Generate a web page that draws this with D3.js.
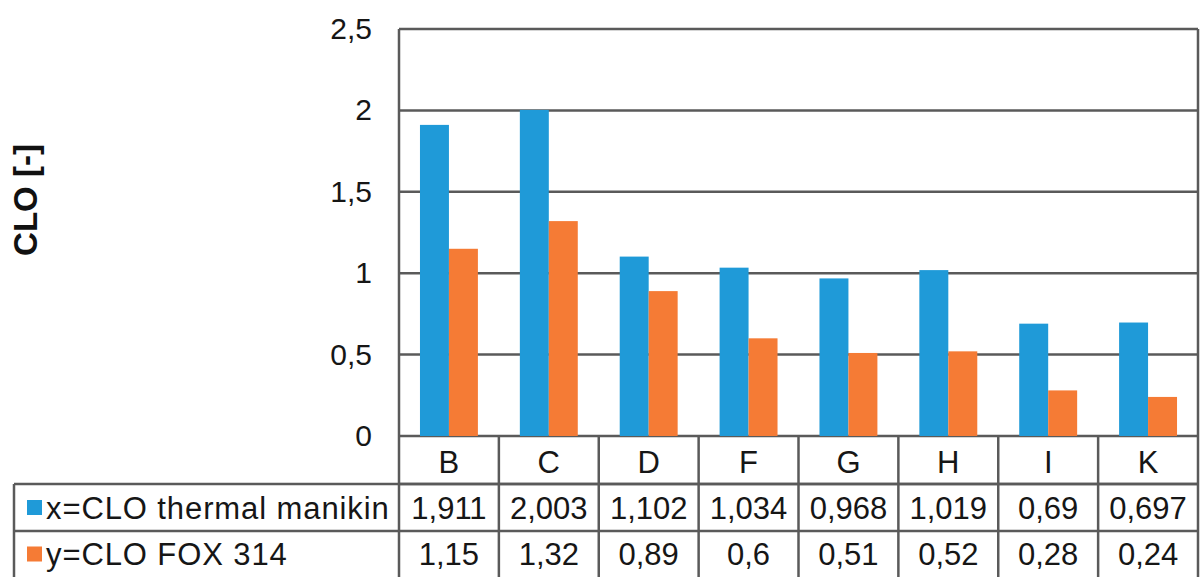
<!DOCTYPE html>
<html>
<head>
<meta charset="utf-8">
<script src="https://cdn.jsdelivr.net/npm/d3@7"></script>
<style>
  html, body { margin: 0; padding: 0; background: #fff; }
  svg { display: block; font-family: "Liberation Sans", Arial, sans-serif; }
</style>
</head>
<body>
<svg id="chart" width="1201" height="577"></svg>
<script>
const categories = ["B", "C", "D", "F", "G", "H", "I", "K"];
const seriesNames = ["x=CLO thermal manikin", "y=CLO FOX 314"];
const manikin = [1.911, 2.003, 1.102, 1.034, 0.968, 1.019, 0.69, 0.697];
const fox = [1.15, 1.32, 0.89, 0.6, 0.51, 0.52, 0.28, 0.24];
const yTicks = [0, 0.5, 1, 1.5, 2, 2.5];
const yTitle = "CLO [-]";
const colors = ["#1f9ad8", "#f57b35"];

const seriesValues = [manikin, fox];
const fmt = v => String(v).replace(".", ",");

const svg = d3.select("#chart");
const plotL = 399, plotR = 1198, plotT = 29, plotB = 436;
const tableL = 14;
const rowCat = [436, 484], row1 = [484, 531], row2 = [531, 580];
const lineColor = "#5a5a5a";
const fontSize = 31;
const textColor = "#161616";

const y = d3.scaleLinear().domain([0, 2.5]).range([plotB, plotT]);
const xCol = d3.scaleBand().domain(categories).range([plotL, plotR]).padding(0);
const xGroup = d3.scaleBand().domain(categories).range([plotL, plotR])
  .paddingInner(0.42).paddingOuter(0.21);
const xSeries = d3.scaleBand().domain(d3.range(seriesNames.length))
  .range([0, xGroup.bandwidth()]).padding(0);

// gridlines
svg.append("g").selectAll("line").data(yTicks).join("line")
  .attr("x1", plotL).attr("x2", plotR)
  .attr("y1", d => y(d)).attr("y2", d => y(d))
  .attr("stroke", lineColor).attr("stroke-width", 2.5);

// bars
const data = [];
categories.forEach((c, i) => seriesValues.forEach((vals, s) => data.push({c, s, v: vals[i]})));
svg.append("g").selectAll("rect").data(data).join("rect")
  .attr("x", d => xGroup(d.c) + xSeries(d.s))
  .attr("width", xSeries.bandwidth())
  .attr("y", d => y(d.v))
  .attr("height", d => y(0) - y(d.v))
  .attr("fill", d => colors[d.s]);

// y tick labels
svg.append("g").selectAll("text").data(yTicks).join("text")
  .attr("x", 372).attr("y", d => y(d))
  .attr("dy", "0.33em")
  .attr("text-anchor", "end")
  .attr("font-size", 30).attr("fill", textColor)
  .text(d => fmt(d));

// y title
svg.append("text")
  .attr("transform", `translate(37,200) rotate(-90)`)
  .attr("text-anchor", "middle")
  .attr("font-size", 33).attr("font-weight", "bold").attr("fill", "#111")
  .text(yTitle);

// table lines
const tg = svg.append("g").attr("stroke", lineColor).attr("stroke-width", 2.5);
tg.append("line").attr("x1", plotL).attr("x2", plotR).attr("y1", rowCat[1]).attr("y2", rowCat[1]);
tg.append("line").attr("x1", tableL).attr("x2", plotR).attr("y1", row1[0]).attr("y2", row1[0]);
tg.append("line").attr("x1", tableL).attr("x2", plotR).attr("y1", row1[1]).attr("y2", row1[1]);
tg.append("line").attr("x1", tableL).attr("x2", plotR).attr("y1", row2[1]).attr("y2", row2[1]);
tg.append("line").attr("x1", tableL).attr("x2", tableL).attr("y1", row1[0]).attr("y2", row2[1]);
tg.append("line").attr("x1", plotL).attr("x2", plotL).attr("y1", plotT).attr("y2", row2[1]);
tg.append("line").attr("x1", plotR).attr("x2", plotR).attr("y1", plotT).attr("y2", row2[1]);
tg.selectAll(".cdiv").data(categories.slice(1)).join("line")
  .attr("x1", d => xCol(d)).attr("x2", d => xCol(d))
  .attr("y1", rowCat[0]).attr("y2", row2[1]);

// category labels
svg.append("g").selectAll("text").data(categories).join("text")
  .attr("x", d => xCol(d) + xCol.bandwidth() / 2)
  .attr("y", (rowCat[0] + rowCat[1]) / 2 + 2)
  .attr("dy", "0.36em").attr("text-anchor", "middle")
  .attr("font-size", fontSize).attr("fill", textColor)
  .text(d => d);

// value rows
const rows = [row1, [row2[0], 577]];
seriesValues.forEach((vals, s) => {
  const cy = (rows[s][0] + rows[s][1]) / 2;
  svg.append("g").selectAll("text").data(vals).join("text")
    .attr("x", (d, i) => xCol(categories[i]) + xCol.bandwidth() / 2)
    .attr("y", cy).attr("dy", "0.36em").attr("text-anchor", "middle")
    .attr("font-size", fontSize).attr("fill", textColor)
    .text(d => fmt(d));
  svg.append("rect")
    .attr("x", 27).attr("y", cy - 7.5).attr("width", 15).attr("height", 15)
    .attr("fill", colors[s]);
  svg.append("text")
    .attr("x", 46).attr("y", cy).attr("dy", "0.36em")
    .attr("font-size", fontSize).attr("fill", textColor)
    .attr("letter-spacing", 0.9)
    .text(seriesNames[s]);
});
</script>
</body>
</html>
